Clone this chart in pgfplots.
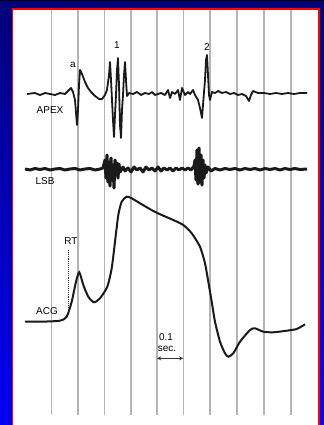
\documentclass[border=0pt]{standalone}
\usepackage{pgfplots}
\pgfplotsset{compat=1.18}
\usepackage{fontspec}
\setmainfont{Liberation Sans}
\newfontfamily\lab[FakeStretch=1.25]{Liberation Sans}
\definecolor{navytop}{HTML}{00007A}
\definecolor{bluebot}{HTML}{0000F5}
\definecolor{ink}{HTML}{1A1A1A}
\definecolor{txt}{HTML}{333333}
\definecolor{gridc}{HTML}{B4B4B4}
\begin{document}
\begin{tikzpicture}
\begin{axis}[
  at={(0,0)}, anchor=south west,
  scale only axis, width=324bp, height=425bp,
  xmin=0, xmax=324, ymin=0, ymax=425,
  y dir=reverse,
  axis lines=none, ticks=none,
  clip=true,
  every node/.style={font=\lab\bfseries\fontsize{8.5}{9}\selectfont, text=txt, inner sep=0pt},
]
% background
\addplot[draw=none, top color=navytop, bottom color=bluebot] coordinates {(0,0)(324,0)(324,425)(0,425)} -- cycle;
\addplot[draw=none, fill=black] coordinates {(0,0)(324,0)(324,1.5)(0,1.5)} -- cycle;
\addplot[draw=none, fill=red] coordinates {(11.5,8)(320,8)(320,426)(11.5,426)} -- cycle;
\addplot[draw=none, fill=white] coordinates {(13,10)(318,10)(318,426)(13,426)} -- cycle;
% vertical time lines
\addplot[gridc, line width=1.6bp, unbounded coords=jump] coordinates {
(51.5,10)(51.5,415) (52,inf)
(78,10)(78,415) (78,inf)
(104.5,10)(104.5,415) (104.5,inf)
(131,10)(131,415) (131,inf)
(157,10)(157,415) (157,inf)
(183.5,10)(183.5,415) (183.5,inf)
(210,10)(210,415) (210,inf)
(237,10)(237,415) (237,inf)
(264,10)(264,415) (264,inf)
(291,10)(291,415)
};
% APEX
\addplot[ink, line width=1.8bp, line join=round] coordinates {
(27,94)(35,93)(40,95)(45,93)(50,94)(55,95)(60,93)(65,94)(68,91)(71,88)(73,92)(75,100)(77,125)(78,110)(79,85)(80,70)(82,74)(85,82)(88,88)(91,92)(95,96)(99,99)(102,99)(105,95)(107,90)(109,75)(110,62)(111,80)(112,100)(113,120)(114,137)(115,115)(116,95)(117,70)(118,58)(119,85)(120,125)(121,138)(122,110)(123,95)(124,75)(125,62)(126,80)(127,96)(129,93)(133,94)(137,92)(141,95)(145,93)(149,94)(152,92)(155,95)(158,94)(161,93)(165,95)(168,90)(170,98)(172,92)(175,94)(178,90)(180,100)(182,88)(185,95)(188,92)(190,94)(193,90)(195,95)(198,100)(200,108)(202,118)(203,105)(205,80)(206,60)(207,55)(208,75)(209,95)(210,100)(212,92)(215,93)(218,91)(222,93)(226,92)(230,94)(234,93)(238,95)(242,94)(246,96)(249,101)(251,95)(253,91)(258,93)(264,93)(270,94)(276,93)(282,94)(288,93)(294,94)(300,93)(307,93)
};
% LSB
\addplot[ink, line width=3bp, line join=round] coordinates {
(25,169)(30,170)(35,168.5)(40,169.5)(45,168.5)(50,170)(55,169)(60,168.5)(65,170)(70,169)(75,168.5)(80,170)(85,169)(90,168.5)(95,170)(100,169)(103,168)(105,160)(106,178)(107,155)(108,182)(109,162)(110,186)(111,158)(112,180)(113,165)(114,188)(115,160)(116,175)(117,163)(118,178)(119,164)(120,172)(123,167)(125,171)(128,168)(131,172)(134,167)(137,170)(140,168)(143,172)(146,167)(149,170)(152,168)(155,171)(158,167)(161,171)(164,168)(167,170)(170,168)(173,171)(176,168)(179,170)(182,168)(185,170)(188,168)(191,170)(194,166)(195,160)(196,180)(197,150)(198,184)(199,148)(200,182)(201,155)(202,185)(203,160)(204,178)(205,165)(206,173)(208,167)(211,171)(215,168.5)(220,170)(225,168.5)(230,169.5)(235,168.5)(240,170)(245,168.5)(250,169.5)(255,168.5)(260,170)(265,168.5)(270,169.5)(275,168.5)(280,170)(285,168.5)(290,169.5)(295,168.5)(300,169.5)(307,169)
};
% ACG
\addplot[ink, line width=2bp, smooth, tension=0.4] coordinates {
(25,321.7)(40,321.7)(60,320.7)(66.7,316.7)(71.7,301.7)(76,281.7)(79.3,272.3)(83.3,285)(88.3,296.7)(94,302.3)(100,298.3)(107.3,286.7)(111.7,268.3)(115,241.7)(118.3,215)(121.7,201.7)(126.7,196.7)(131.7,198.3)(140,203.3)(153.3,211)(163.3,215.7)(173.3,220)(183.3,225)(191.7,233.3)(200,246.7)(205,263.3)(208.3,281.7)(211.7,301.7)(215,321.7)(220,341.7)(225,353.3)(228.3,356.7)(233.3,353.3)(240,341.7)(250,330)(255,328.3)(263.3,331.7)(273.3,332.3)(286.7,330.7)(296.7,329)(305,324.3)
};
% RT dotted marker
\addplot[txt, densely dotted, line width=0.9bp] coordinates {(68.3,250)(68.3,312)};
% 0.1 sec scale
\addplot[txt, line width=0.9bp, <->, >=stealth] coordinates {(157,358.3)(183.3,358.3)};
% labels
\node[anchor=center] at (axis cs:50,110) {APEX};
\node[anchor=center] at (axis cs:45,181) {LSB};
\node[anchor=center] at (axis cs:47,311) {ACG};
\node[anchor=center] at (axis cs:71,241) {RT};
\node[anchor=center] at (axis cs:73,65) {a};
\node[anchor=center] at (axis cs:117,45) {1};
\node[anchor=center] at (axis cs:207,47) {2};
\node[anchor=center] at (axis cs:166,337) {0.1};
\node[anchor=center] at (axis cs:167,349) {sec.};
\end{axis}
\end{tikzpicture}
\end{document}
